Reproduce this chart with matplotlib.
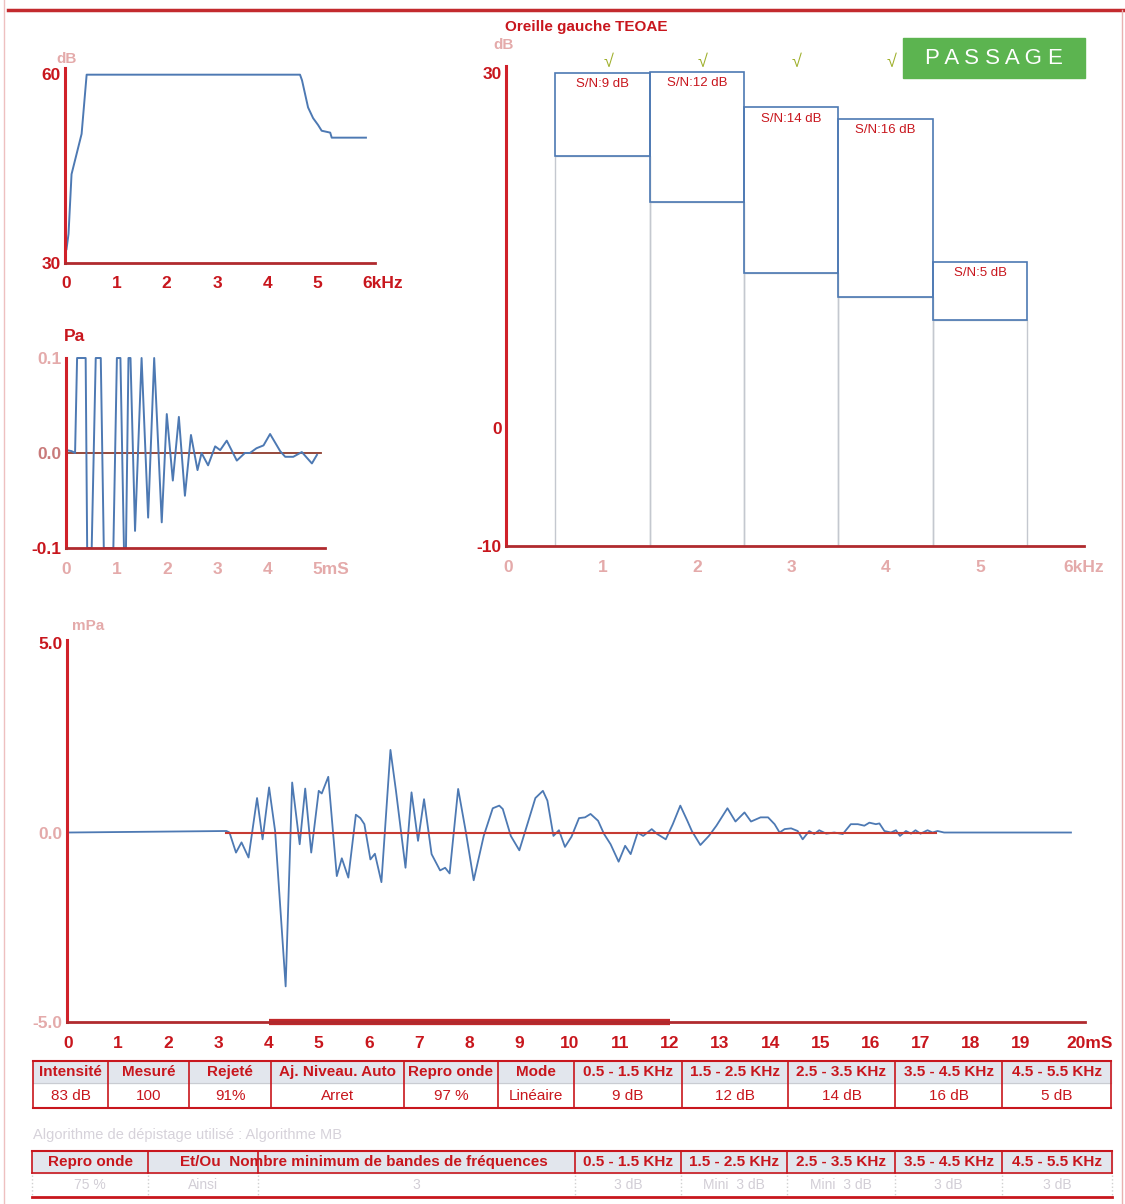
import matplotlib
matplotlib.use("Agg")
from matplotlib import pyplot as plt
from matplotlib.patches import Rectangle

plt.rcParams['font.family'] = ['Liberation Sans', 'DejaVu Sans']

W, H = 1125, 1204

# ---- data ----
# stimulus spectrum (kHz, dB)
spec_khz = [0.01, 0.05, 0.11, 0.21, 0.31, 0.41, 4.65, 4.69, 4.81, 4.91,
            5.01, 5.08, 5.25, 5.28, 5.96]
spec_db = [32.2, 34.6, 44.1, 47.3, 50.5, 59.9, 59.9, 59.0, 54.7, 53.0,
           51.9, 51.0, 50.7, 49.9, 49.9]

# stimulus waveform (ms, Pa)
stim_ms = [0.00, 0.10, 0.17, 0.21, 0.38, 0.41, 0.50, 0.58, 0.68, 0.74,
           0.93, 1.00, 1.07, 1.14, 1.18, 1.23, 1.27, 1.36, 1.49, 1.62,
           1.74, 1.89, 1.99, 2.11, 2.23, 2.35, 2.47, 2.60, 2.68, 2.81,
           2.95, 3.05, 3.18, 3.38, 3.54, 3.64, 3.77, 3.91, 4.04, 4.24,
           4.34, 4.50, 4.67, 4.87, 4.97]
stim_pa = [0.003, 0.002, 0.0, 0.1, 0.1, -0.1, -0.1, 0.1, 0.1, -0.1,
           -0.1, 0.1, 0.1, -0.1, -0.1, 0.1, 0.1, -0.082, 0.1, -0.068,
           0.1, -0.073, 0.041, -0.029, 0.038, -0.045, 0.019, -0.018, 0.0, -0.013,
           0.007, 0.003, 0.013, -0.008, 0.0, 0.0, 0.005, 0.008, 0.02, 0.002,
           -0.004, -0.004, 0.001, -0.011, -0.002]

# bands
band_khz = [1, 2, 3, 4, 5]
signal_db = [30.0, 30.1, 27.1, 26.1, 14.05]
noise_db = [23.0, 19.1, 13.1, 11.1, 9.1]
snr_db = [9, 12, 14, 16, 5]
band_pass = [True, True, True, True, False]

# response waveform (ms, mPa)
resp_ms = [0.00, 3.16, 3.22, 3.35, 3.46, 3.60, 3.77, 3.88, 4.01, 4.13,
           4.34, 4.47, 4.62, 4.73, 4.85, 5.00, 5.06, 5.19, 5.36, 5.46,
           5.59, 5.74, 5.83, 5.91, 6.03, 6.12, 6.25, 6.43, 6.54, 6.73,
           6.85, 6.98, 7.10, 7.25, 7.42, 7.52, 7.61, 7.78, 7.93, 8.09,
           8.29, 8.47, 8.60, 8.67, 8.83, 9.00, 9.17, 9.32, 9.47, 9.56,
           9.68, 9.79, 9.91, 10.04, 10.19, 10.31, 10.42, 10.57, 10.69, 10.82,
           10.98, 11.11, 11.22, 11.36, 11.47, 11.64, 11.75, 11.92, 12.06, 12.21,
           12.35, 12.44, 12.61, 12.78, 12.93, 13.15, 13.31, 13.49, 13.62, 13.81,
           13.96, 14.09, 14.19, 14.29, 14.42, 14.55, 14.65, 14.78, 14.88, 14.98,
           15.12, 15.28, 15.45, 15.61, 15.75, 15.88, 15.98, 16.11, 16.18, 16.28,
           16.41, 16.51, 16.59, 16.71, 16.81, 16.90, 17.00, 17.14, 17.24, 17.34,
           17.47, 20.00]
resp_mpa = [0.00, 0.04, 0.00, -0.53, -0.26, -0.66, 0.91, -0.18, 1.19, 0.04,
            -4.06, 1.32, -0.31, 1.16, -0.53, 1.10, 1.03, 1.47, -1.15, -0.68,
            -1.19, 0.47, 0.38, 0.22, -0.71, -0.56, -1.31, 2.18, 1.10, -0.93,
            1.06, -0.22, 0.88, -0.57, -1.00, -0.93, -1.08, 1.15, 0.04, -1.26,
            -0.09, 0.64, 0.71, 0.62, -0.09, -0.47, 0.26, 0.91, 1.10, 0.84,
            -0.09, 0.06, -0.38, -0.11, 0.38, 0.40, 0.49, 0.31, -0.04, -0.31,
            -0.77, -0.35, -0.57, 0.00, -0.09, 0.09, -0.04, -0.18, 0.22, 0.71,
            0.31, 0.04, -0.33, -0.09, 0.18, 0.64, 0.29, 0.53, 0.29, 0.40,
            0.40, 0.22, 0.00, 0.09, 0.11, 0.04, -0.18, 0.04, -0.04, 0.06,
            -0.03, 0.00, -0.04, 0.22, 0.22, 0.18, 0.26, 0.22, 0.24, 0.04,
            0.00, 0.06, -0.09, 0.04, -0.03, 0.06, -0.03, 0.06, 0.00, 0.04,
            0.00, 0.00]
window_ms = [3.16, 17.3]
analysis_ms = [4, 12]

# tables
t1_head = ['Intensité', 'Mesuré', 'Rejeté', 'Aj. Niveau. Auto', 'Repro onde', 'Mode',
           '0.5 - 1.5 KHz', '1.5 - 2.5 KHz', '2.5 - 3.5 KHz', '3.5 - 4.5 KHz', '4.5 - 5.5 KHz']
t1_vals = ['83 dB', '100', '91%', 'Arret', '97 %', 'Linéaire',
           '9 dB', '12 dB', '14 dB', '16 dB', '5 dB']
t2_head = ['Repro onde', '', '', '0.5 - 1.5 KHz', '1.5 - 2.5 KHz', '2.5 - 3.5 KHz',
           '3.5 - 4.5 KHz', '4.5 - 5.5 KHz']
t2_vals = ['75 %', 'Ainsi', '3', '3 dB', 'Mini  3 dB', 'Mini  3 dB', '3 dB', '3 dB']

RED = '#c8161d'
AXRED = '#d0212a'
DARK = '#b02a2e'
FADE = '#e4aaaa'
BLUE = '#4d79b3'
TS = 12.5

fig = plt.figure(figsize=(11.25, 12.04), dpi=100)


def px_axes(l, t, r, b):
    return fig.add_axes([l / W, 1 - b / H, (r - l) / W, (b - t) / H])


def style(ax):
    for s in ('top', 'right'):
        ax.spines[s].set_visible(False)
    ax.spines['left'].set_color(AXRED)
    ax.spines['left'].set_linewidth(2.2)
    ax.spines['bottom'].set_color(DARK)
    ax.spines['bottom'].set_linewidth(2)
    ax.tick_params(length=0, labelsize=TS, labelcolor=RED)
    ax.patch.set_visible(False)


# ---- spectrum ----
ax1 = px_axes(65, 68, 375, 263)
style(ax1)
ax1.plot(spec_khz, spec_db, color=BLUE, lw=1.4)
ax1.set_xlim(-0.02, 6.14)
ax1.set_ylim(30, 60.96)
ax1.set_xticks(range(6), [str(i) for i in range(6)], fontweight='bold')
ax1.set_yticks([30, 60], ['30', '60'], fontweight='bold')
ax1.tick_params(axis='x', pad=9)
ax1.tick_params(axis='y', pad=3)
ax1.annotate('6kHz', xy=(6, 0), xycoords=ax1.get_xaxis_transform(),
             xytext=(-4, -9), textcoords='offset points', ha='left', va='top',
             fontsize=TS, fontweight='bold', color=RED)
ax1.text(0.02, 61.8, 'dB', color=FADE, fontsize=11, fontweight='bold', ha='center')

# ---- stimulus waveform ----
ax2 = px_axes(66, 358, 325, 548)
style(ax2)
ax2.axhline(0, xmin=0, xmax=0.985, color='#8e3a2c', lw=1.3)
ax2.plot(stim_ms, stim_pa, color=BLUE, lw=1.4, clip_on=False)
ax2.set_xlim(-0.01, 5.13)
ax2.set_ylim(-0.1, 0.1)
ax2.set_xticks(range(5), [str(i) for i in range(5)], fontweight='bold', color=FADE)
ax2.set_yticks([-0.1, 0.0, 0.1], ['-0.1', '0.0', '0.1'], fontweight='bold')
ylab = ax2.get_yticklabels()
ylab[1].set_color('#c97a7a')
ylab[2].set_color(FADE)
ax2.tick_params(axis='x', pad=10)
ax2.tick_params(axis='y', pad=3)
ax2.annotate('5mS', xy=(5, 0), xycoords=ax2.get_xaxis_transform(),
             xytext=(-4, -10), textcoords='offset points', ha='left', va='top',
             fontsize=TS, fontweight='bold', color=FADE)
ax2.text(0.15, 0.118, 'Pa', color=RED, fontsize=TS, fontweight='bold', ha='center')

# ---- band levels ----
ax3 = px_axes(506, 66, 1084, 546)
style(ax3)
lo = [n + 10 for n in noise_db]
hi = [s - n for s, n in zip(signal_db, noise_db)]
ax3.bar(band_khz, lo, bottom=-10, width=1.0, fill=False, edgecolor='#c4c8cf', lw=1.0)
ax3.bar(band_khz, hi, bottom=noise_db, width=1.0, fill=False, edgecolor=BLUE, lw=1.2)
for x, s, snr, ok in zip(band_khz, signal_db, snr_db, band_pass):
    ax3.text(x, s - 0.95, 'S/N:%d dB' % snr, ha='center', va='center',
             fontsize=9.5, color=RED)
    if ok:
        ax3.text(x + 0.06, 30.9, '√', ha='center', va='center', fontsize=13,
                 color='#9fb02c', clip_on=False)
ax3.set_xlim(-0.02, 6.1)
ax3.set_ylim(-10, 30.6)
ax3.set_xticks(range(6), [str(i) for i in range(6)], fontweight='bold', color=FADE)
ax3.set_yticks([-10, 0, 30], ['-10', '0', '30'], fontweight='bold')
ax3.tick_params(axis='x', pad=10)
ax3.tick_params(axis='y', pad=3)
ax3.annotate('6kHz', xy=(6, 0), xycoords=ax3.get_xaxis_transform(),
             xytext=(-8, -10), textcoords='offset points', ha='left', va='top',
             fontsize=TS, fontweight='bold', color=FADE)
ax3.text(-0.05, 32.0, 'dB', color=FADE, fontsize=11, fontweight='bold', ha='center')

# ---- response waveform ----
ax4 = px_axes(67, 640, 1085, 1022)
style(ax4)
ax4.plot(resp_ms, resp_mpa, color=BLUE, lw=1.3)
ax4.plot(window_ms, [0, 0], color='#c63a32', lw=1.5)
ax4.plot(analysis_ms, [-5, -5], color='#c0282a', lw=4.5, solid_capstyle='butt', clip_on=False)
ax4.set_xlim(-0.02, 20.28)
ax4.set_ylim(-5, 5.08)
ax4.set_xticks(range(20), [str(i) for i in range(20)], fontweight='bold')
ax4.set_yticks([-5, 0, 5], ['-5.0', '0.0', '5.0'], fontweight='bold')
ylab = ax4.get_yticklabels()
ylab[0].set_color(FADE)
ylab[1].set_color(FADE)
ax4.tick_params(axis='x', pad=10)
ax4.tick_params(axis='y', pad=3)
ax4.annotate('20mS', xy=(20, 0), xycoords=ax4.get_xaxis_transform(),
             xytext=(-3, -10), textcoords='offset points', ha='left', va='top',
             fontsize=TS, fontweight='bold', color=RED)
ax4.text(0.4, 5.35, 'mPa', color=FADE, fontsize=11, fontweight='bold', ha='center')

# ---- page overlay: frame, title, verdict, tables ----
bg = fig.add_axes([0, 0, 1, 1], zorder=5)
bg.set_xlim(0, W)
bg.set_ylim(H, 0)
bg.axis('off')
bg.patch.set_visible(False)

bg.plot([8, W], [10, 10], color='#c32a2e', lw=2.5)
bg.plot([4, 4], [0, H], color='#eec0c0', lw=1)
bg.plot([1122, 1122], [10, H], color='#e9b0b0', lw=1)
bg.text(586, 27, 'Oreille gauche TEOAE', ha='center', va='center',
        fontsize=11, fontweight='bold', color=RED)

bg.add_patch(Rectangle((903, 38), 182, 40, color='#5cb450'))
bg.text(994, 58, 'P A S S A G E', ha='center', va='center', fontsize=16,
        color='white')

# table 1
c1 = [33, 108, 189, 271, 404, 498, 574, 682, 788, 895, 1002, 1111]
bg.add_patch(Rectangle((c1[0], 1061), c1[-1] - c1[0], 22, color='#e2e6ed'))
bg.plot([c1[0], c1[-1]], [1061, 1061], color=RED, lw=1.5)
bg.plot([c1[0], c1[-1]], [1083, 1083], color='#c9ccd2', lw=0.8)
bg.plot([c1[0], c1[-1]], [1108, 1108], color=RED, lw=1.5)
for x in c1:
    bg.plot([x, x], [1061, 1108], color=RED, lw=1.2)
for i in range(len(t1_head)):
    cx = (c1[i] + c1[i + 1]) / 2
    bg.text(cx, 1072, t1_head[i], ha='center', va='center', fontsize=11,
            fontweight='bold', color=RED)
    bg.text(cx, 1096, t1_vals[i], ha='center', va='center', fontsize=11, color=RED)

bg.text(33, 1135, 'Algorithme de dépistage utilisé : Algorithme MB', ha='left',
        va='center', fontsize=10.5, color='#d6d2da')

# table 2
c2 = [32, 148, 258, 575, 681, 787, 895, 1002, 1112]
bg.add_patch(Rectangle((c2[0], 1151), c2[-1] - c2[0], 22, color='#e2e6ed'))
bg.plot([c2[0], c2[-1]], [1151, 1151], color=RED, lw=1.5)
bg.plot([c2[0], c2[-1]], [1173, 1173], color=RED, lw=1.2)
bg.plot([c2[0], c2[-1]], [1197, 1197], color=RED, lw=2)
for x in c2:
    bg.plot([x, x], [1151, 1173], color=RED, lw=1.2)
    bg.plot([x, x], [1175, 1195], color='#cfcfcf', lw=1, ls=':')
bg.text(180, 1162, 'Et/Ou  Nombre minimum de bandes de fréquences', ha='left',
        va='center', fontsize=11, fontweight='bold', color=RED)
for i in range(len(t2_head)):
    cx = (c2[i] + c2[i + 1]) / 2
    if t2_head[i]:
        bg.text(cx, 1162, t2_head[i], ha='center', va='center', fontsize=11,
                fontweight='bold', color=RED)
    bg.text(cx, 1185, t2_vals[i], ha='center', va='center', fontsize=10,
            color='#d2ced6')

fig.savefig('out.png', dpi=100)
